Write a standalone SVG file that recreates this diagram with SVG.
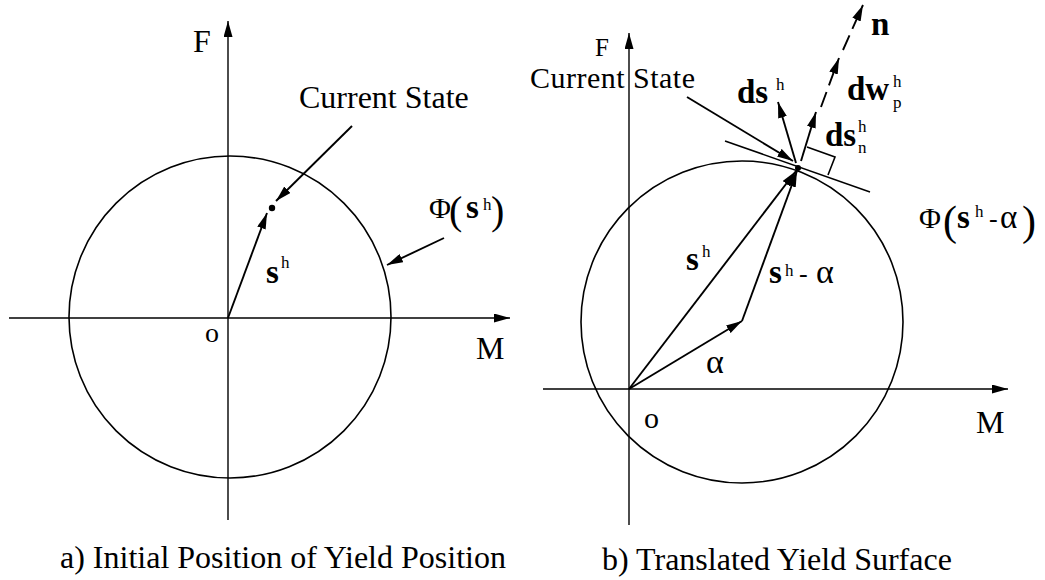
<svg xmlns="http://www.w3.org/2000/svg" width="1045" height="580" viewBox="0 0 1045 580" font-family="'Liberation Serif','DejaVu Serif',serif">
<style>
text{font-family:'Liberation Serif','DejaVu Serif',serif;fill:#000}
.lbl{font-size:32px}
.b{font-size:33px;font-weight:bold}
.sup{font-size:17px}
.par{font-size:42px}
.hy{font-size:26px}
.ax{stroke:#000;stroke-width:1.4;fill:none}
.vec{stroke:#000;stroke-width:1.9;fill:none}
.crv{stroke:#000;stroke-width:1.6;fill:none}
.dash{stroke:#000;stroke-width:1.9;fill:none;stroke-dasharray:16 7}
</style>
<defs>
<marker id="ah" markerUnits="userSpaceOnUse" markerWidth="16" markerHeight="9" refX="16" refY="4.5" orient="auto">
<path d="M0,0 L16,4.5 L0,9 z" fill="#000"/>
</marker>
</defs>
<rect width="1045" height="580" fill="#fff"/>

<g id="panel-a">
  <g id="a-surface"><circle cx="230" cy="317" r="161" class="crv"/></g>
  <g id="a-point"><circle cx="272" cy="208" r="3.2" fill="#000"/></g>
  <g id="a-labels">
    <text class="lbl" x="193" y="52">F</text>
    <text class="lbl" x="476" y="359">M</text>
    <text class="lbl" x="205" y="342" style="font-size:28px">o</text>
    <text class="lbl" x="299" y="108">Current State</text>
    <text class="b" x="266" y="283">s</text><text class="sup" x="281" y="268">h</text>
    <text class="lbl" x="429" y="218" style="font-size:30px">Φ</text>
    <text class="par" x="449" y="224" style="font-size:40px">(</text>
    <text class="b" x="466" y="218">s</text><text class="sup" x="483" y="210">h</text>
    <text class="par" x="491" y="224" style="font-size:40px">)</text>
    <text class="lbl" x="60" y="568">a) Initial Position of Yield Position</text>
  </g>
</g>

<g id="panel-b">
  <g id="b-surface"><circle cx="742" cy="322" r="161" class="crv"/></g>
  <g id="b-tangent"><line x1="725" y1="141" x2="870" y2="192" class="crv"/></g>
  <g id="b-rightangle"><polyline points="807,147 835,157 828,175" class="crv"/></g>
  <g id="b-point"><circle cx="798" cy="168" r="3" fill="#000"/></g>
  <g id="b-labels">
    <text class="lbl" x="595" y="56" style="font-size:25px">F</text>
    <text class="lbl" x="530" y="88" style="font-size:30px" textLength="165">Current State</text>
    <text class="lbl" x="976" y="433">M</text>
    <text class="lbl" x="644" y="428" style="font-size:30px">o</text>
    <text class="lbl" x="706" y="373" style="font-size:34px">α</text>
    <text class="b" x="686" y="270">s</text><text class="sup" x="702" y="257">h</text>
    <text class="b" x="769" y="283">s</text><text class="sup" x="785" y="276">h</text>
    <text class="hy" x="799" y="282">-</text><text class="lbl" x="816" y="283" style="font-size:34px">α</text>
    <text class="b" x="737" y="103">ds</text><text class="sup" x="776" y="90">h</text>
    <text class="b" x="847" y="100">dw</text><text class="sup" x="893" y="87">h</text><text class="sup" x="893" y="108">p</text>
    <text class="b" x="825" y="146">ds</text><text class="sup" x="858" y="132">h</text><text class="sup" x="858" y="153">n</text>
    <text class="b" x="871" y="35">n</text>
    <text class="lbl" x="919" y="228" style="font-size:30px">Φ</text>
    <text class="par" x="943" y="235">(</text>
    <text class="b" x="957" y="228">s</text><text class="sup" x="975" y="217">h</text>
    <text class="hy" x="989" y="227">-</text><text class="lbl" x="1000" y="228" style="font-size:33px">α</text>
    <text class="par" x="1022" y="235">)</text>
    <text class="lbl" x="602" y="570">b) Translated Yield Surface</text>
  </g>
</g>

<g id="connectors">
  <line x1="228" y1="520" x2="228" y2="21" class="ax" marker-end="url(#ah)"/>
  <line x1="9" y1="318" x2="510" y2="318" class="ax" marker-end="url(#ah)"/>
  <line x1="228" y1="318" x2="267" y2="213" class="vec" marker-end="url(#ah)"/>
  <line x1="352" y1="126" x2="276" y2="201" class="vec" marker-end="url(#ah)"/>
  <line x1="444" y1="238" x2="387" y2="265" class="vec" marker-end="url(#ah)"/>

  <line x1="629" y1="525" x2="629" y2="33" class="ax" marker-end="url(#ah)"/>
  <line x1="543" y1="389" x2="1008" y2="389" class="ax" marker-end="url(#ah)"/>
  <line x1="629" y1="389" x2="742" y2="321" class="vec" marker-end="url(#ah)"/>
  <line x1="629" y1="389" x2="796" y2="171" class="vec" marker-end="url(#ah)"/>
  <line x1="742" y1="321" x2="797" y2="171" class="vec" marker-end="url(#ah)"/>
  <line x1="687" y1="97" x2="793" y2="161" class="vec" marker-end="url(#ah)"/>
  <line x1="796" y1="163" x2="778" y2="102" class="vec" marker-end="url(#ah)"/>
  <line x1="801" y1="161" x2="816" y2="112" class="vec" marker-end="url(#ah)"/>
  <line x1="821" y1="107" x2="839" y2="58" class="dash" marker-end="url(#ah)"/>
  <line x1="843" y1="50" x2="863" y2="5" class="dash" marker-end="url(#ah)"/>
</g>
</svg>
